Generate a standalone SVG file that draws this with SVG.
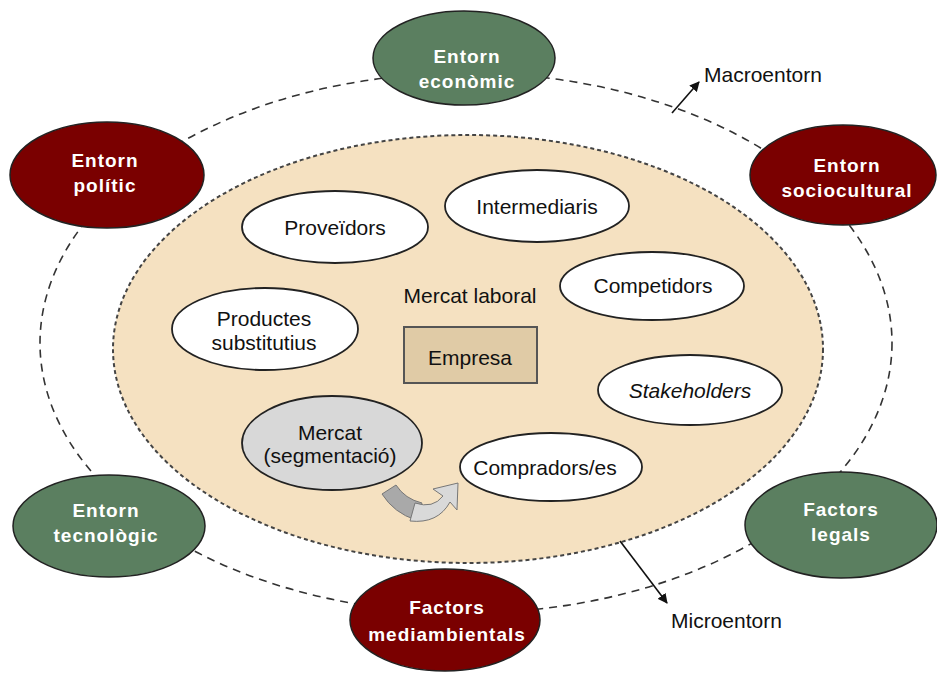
<svg xmlns="http://www.w3.org/2000/svg" width="937" height="679" viewBox="0 0 937 679">
<style>
.outer{font-family:"Liberation Sans",Arial,sans-serif;font-size:19px;font-weight:bold;fill:#fff;text-anchor:middle;letter-spacing:1px}
.inner{font-family:"Liberation Sans",Arial,sans-serif;font-size:21px;fill:#111;text-anchor:middle}
.lbl{font-family:"Liberation Sans",Arial,sans-serif;font-size:21px;fill:#111}
.green{fill:#5b7f60;stroke:#222;stroke-width:1.5}
.red{fill:#7a0000;stroke:#222;stroke-width:1.5}
.white{fill:#fff;stroke:#222;stroke-width:1.8}
</style>
<defs>
<marker id="ah" viewBox="0 0 10 10" refX="9" refY="5" markerWidth="10" markerHeight="10" orient="auto-start-reverse" markerUnits="userSpaceOnUse">
<path d="M0,0 L10,5 L0,10 z" fill="#111"/>
</marker>
</defs>
<rect width="937" height="679" fill="#fff"/>
<g id="macroentorn-boundary">
<ellipse cx="466" cy="343" rx="426" ry="270" fill="none" stroke="#333" stroke-width="1.6" stroke-dasharray="8 6"/>
</g>
<g id="microentorn-boundary">
<ellipse cx="468" cy="349" rx="355" ry="214" fill="#f5e1c1" stroke="#444" stroke-width="2" stroke-dasharray="4 3"/>
</g>
<g id="connectors" fill="none" stroke="#111" stroke-width="1.6">
<line x1="672" y1="113" x2="699" y2="82" marker-end="url(#ah)"/>
<line x1="620" y1="541" x2="667" y2="603" marker-end="url(#ah)"/>
</g>
<g id="label-macroentorn"><text class="lbl" x="704" y="82">Macroentorn</text></g>
<g id="label-microentorn"><text class="lbl" x="671" y="628">Microentorn</text></g>
<g id="entorn-economic">
<ellipse class="green" cx="464" cy="58" rx="91" ry="47"/>
<text class="outer" x="467" y="63">Entorn</text>
<text class="outer" x="467" y="88">econòmic</text>
</g>
<g id="entorn-politic">
<ellipse class="red" cx="107" cy="175" rx="97" ry="53"/>
<text class="outer" x="105" y="167">Entorn</text>
<text class="outer" x="105" y="192">polític</text>
</g>
<g id="entorn-sociocultural">
<ellipse class="red" cx="843" cy="175" rx="93" ry="50"/>
<text class="outer" x="847" y="172">Entorn</text>
<text class="outer" x="847" y="197">sociocultural</text>
</g>
<g id="entorn-tecnologic">
<ellipse class="green" cx="109" cy="526" rx="96" ry="51"/>
<text class="outer" x="106" y="517">Entorn</text>
<text class="outer" x="106" y="542">tecnològic</text>
</g>
<g id="factors-legals">
<ellipse class="green" cx="841" cy="525" rx="96" ry="53"/>
<text class="outer" x="841" y="516">Factors</text>
<text class="outer" x="841" y="541">legals</text>
</g>
<g id="factors-mediambientals">
<ellipse class="red" cx="445" cy="620" rx="95" ry="51"/>
<text class="outer" x="447" y="614">Factors</text>
<text class="outer" x="447" y="641">mediambientals</text>
</g>
<g id="proveidors">
<ellipse class="white" cx="335" cy="227" rx="93" ry="36"/>
<text class="inner" x="335" y="235">Proveïdors</text>
</g>
<g id="intermediaris">
<ellipse class="white" cx="537" cy="206" rx="92" ry="36"/>
<text class="inner" x="537" y="214">Intermediaris</text>
</g>
<g id="competidors">
<ellipse class="white" cx="652" cy="286" rx="92" ry="34"/>
<text class="inner" x="653" y="293">Competidors</text>
</g>
<g id="productes-substitutius">
<ellipse class="white" cx="265" cy="329" rx="93" ry="41"/>
<text class="inner" x="264" y="326">Productes</text>
<text class="inner" x="264" y="350">substitutius</text>
</g>
<g id="mercat-laboral">
<text class="inner" x="470" y="303">Mercat laboral</text>
</g>
<g id="empresa">
<rect x="404" y="327" width="133" height="56" fill="#e0cba6" stroke="#555" stroke-width="2"/>
<text class="inner" x="470" y="365">Empresa</text>
</g>
<g id="stakeholders">
<ellipse class="white" cx="690" cy="390" rx="92" ry="35"/>
<text class="inner" x="690" y="398" font-style="italic">Stakeholders</text>
</g>
<g id="mercat-segmentacio">
<ellipse cx="332" cy="443" rx="90" ry="47" fill="#d8d8d8" stroke="#222" stroke-width="1.8"/>
<text class="inner" x="330" y="440">Mercat</text>
<text class="inner" x="330" y="463">(segmentació)</text>
</g>
<g id="compradors">
<ellipse class="white" cx="551" cy="467" rx="91" ry="34"/>
<text class="inner" x="545" y="475">Compradors/es</text>
</g>
<g id="curved-arrow" stroke="#777" stroke-width="1">
<path d="M382,494 L396,485 Q405,499 422,503 L416,520 Q394,513 382,494 Z" fill="#a9a9a9"/>
<path d="M415,503 Q433,509 443,496 L433,489 L458,483 L457,510 L450,502 Q438,524 410,521 Z" fill="#d9d9d9"/>
</g>
</svg>
